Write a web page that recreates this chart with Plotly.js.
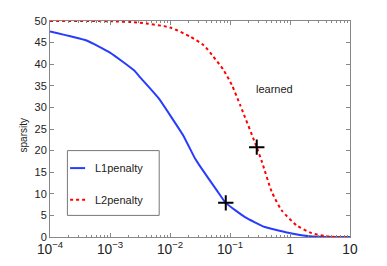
<!DOCTYPE html>
<html><head><meta charset="utf-8">
<script src="https://cdn.plot.ly/plotly-3.0.1.min.js"></script>
<style>html,body{margin:0;padding:0;background:#fff;}#chart{width:387px;height:266px;}</style>
</head><body><div id="chart"></div>
<script>
// L1 penalty curve
const l1X = [1e-4, 4.07e-4, 1e-3, 2.51e-3, 3.16e-3, 6.31e-3, 1.66e-2, 2.63e-2, 3.16e-2, 6.03e-2, 8.5e-2, 0.1778, 0.3828, 1.072, 2.14, 3.98, 10];
const l1Y = [47.6, 45.5, 42.7, 38.6, 37.0, 32.3, 23.5, 18.1, 16.4, 10.8, 7.9, 4.6, 2.3, 0.8, 0.15, 0, 0];
// L2 penalty curve
const l2X = [1e-4, 1e-3, 3.16e-3, 1e-2, 0.02153, 0.03631, 0.05248, 0.07762, 0.1072, 0.1479, 0.2786, 0.3388, 0.4955, 0.7244, 1.288, 2.291, 3.981, 6.31, 10];
const l2Y = [50, 49.95, 49.6, 48.5, 46.4, 44.4, 41.8, 38.7, 35.2, 30.5, 20.8, 17.5, 10.5, 6.2, 2.7, 0.9, 0.2, 0, 0];
// learned points
const learnedX = [0.085, 0.279];
const learnedY = [7.9, 20.8];
const seriesNames = ['L1penalty', 'L2penalty'];
const yTicks = [0, 5, 10, 15, 20, 25, 30, 35, 40, 45, 50];

const font = {family: 'Liberation Sans, Arial, sans-serif', size: 11, color: '#222'};
const blue = 'rgb(40,60,255)';
const red = 'rgb(255,0,0)';

const traces = [
  {x: l1X, y: l1Y, mode: 'lines', name: seriesNames[0], line: {color: blue, width: 2, shape: 'spline', smoothing: 0.4}},
  {x: l2X, y: l2Y, mode: 'lines', name: seriesNames[1], line: {color: red, width: 2, dash: 'dot', shape: 'spline', smoothing: 0.6}},
  {x: learnedX, y: learnedY, mode: 'markers', name: 'learned',
   marker: {symbol: 'cross-thin', size: 11, line: {color: '#000', width: 2}}}
];

const axisCommon = {showline: true, linecolor: '#888', linewidth: 1, mirror: 'ticks',
  ticks: 'inside', ticklen: 4, tickcolor: '#888', showgrid: false, zeroline: false,
  tickfont: font};

const layout = {
  width: 387, height: 266,
  margin: {l: 50, r: 37, t: 21, b: 29},
  paper_bgcolor: '#fff', plot_bgcolor: '#fff',
  showlegend: false,
  font: font,
  xaxis: Object.assign({}, axisCommon, {type: 'log', range: [-4, 1], dtick: 1,
    exponentformat: 'power', ticklen: 4,
    minor: {ticks: 'inside', ticklen: 2, tickcolor: '#888', showgrid: false}}),
  yaxis: Object.assign({}, axisCommon, {range: [0, 50], tickvals: yTicks, ticktext: yTicks.map(String)}),
  shapes: [
    {type: 'rect', xref: 'paper', yref: 'paper', x0: 0.058, x1: 0.364, y0: 0.1, y1: 0.40,
     line: {color: '#777', width: 1}, fillcolor: 'rgba(255,255,255,1)'},
    {type: 'line', xref: 'paper', yref: 'paper', x0: 0.067, x1: 0.117, y0: 0.319, y1: 0.319,
     line: {color: blue, width: 2}},
    {type: 'line', xref: 'paper', yref: 'paper', x0: 0.067, x1: 0.117, y0: 0.173, y1: 0.173,
     line: {color: red, width: 2, dash: 'dot'}}
  ],
  annotations: [
    {text: seriesNames[0], xref: 'paper', yref: 'paper', x: 0.143, y: 0.319, xanchor: 'left', yanchor: 'middle', showarrow: false, font: font},
    {text: seriesNames[1], xref: 'paper', yref: 'paper', x: 0.143, y: 0.173, xanchor: 'left', yanchor: 'middle', showarrow: false, font: font},
    {text: 'learned', xref: 'paper', yref: 'paper', x: 0.747, y: 0.686, xanchor: 'center', yanchor: 'middle', showarrow: false, font: font},
    {text: 'sparsity', xref: 'paper', yref: 'paper', x: -0.09, y: 0.47, textangle: -90, xanchor: 'center', yanchor: 'middle', showarrow: false, font: {family: font.family, size: 10, color: '#222'}},
    {text: 'lambda', xref: 'paper', yref: 'paper', x: 0.457, y: -0.115, xanchor: 'center', yanchor: 'top', showarrow: false, font: font}
  ]
};

Plotly.newPlot('chart', traces, layout, {displayModeBar: false, staticPlot: true});
</script></body></html>
